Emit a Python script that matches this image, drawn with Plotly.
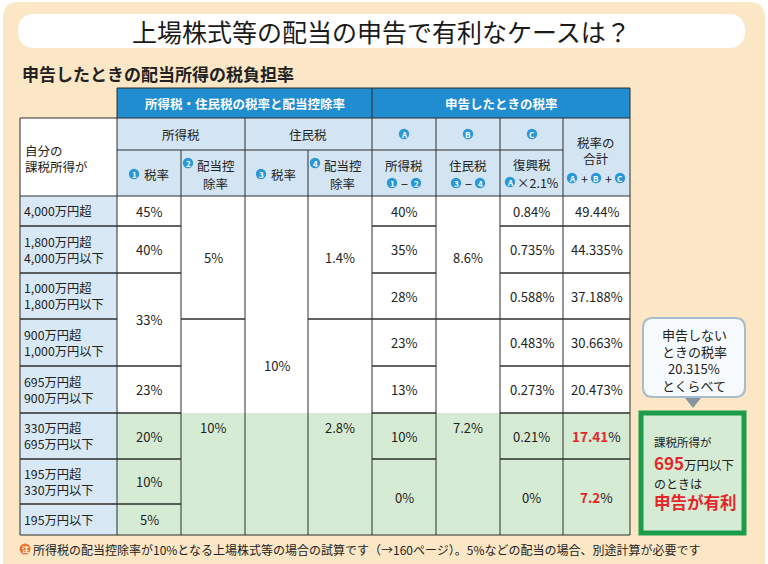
import plotly.graph_objects as go

# ---------------- data ----------------
income_brackets = [
    "4,000万円超",
    "1,800万円超<br>4,000万円以下",
    "1,000万円超<br>1,800万円以下",
    "900万円超<br>1,000万円以下",
    "695万円超<br>900万円以下",
    "330万円超<br>695万円以下",
    "195万円超<br>330万円以下",
    "195万円以下",
]
income_tax_rate = [45, 40, 33, 33, 23, 20, 10, 5]                 # ❶
income_tax_credit = [5, 5, 5, 10, 10, 10, 10, 10]                 # ❷
resident_tax_rate = [10, 10, 10, 10, 10, 10, 10, 10]              # ❸
resident_tax_credit = [1.4, 1.4, 1.4, 2.8, 2.8, 2.8, 2.8, 2.8]    # ❹
filed_income_tax = [40, 35, 28, 23, 13, 10, 0, 0]                 # Ⓐ
filed_resident_tax = [8.6, 8.6, 8.6, 7.2, 7.2, 7.2, 7.2, 7.2]     # Ⓑ
reconstruction_tax = [0.84, 0.735, 0.588, 0.483, 0.273, 0.21, 0, 0]  # Ⓒ
total_rate = [49.44, 44.335, 37.188, 30.663, 20.473, 17.41, 7.2, 7.2]
no_filing_rate = 20.315

# ---------------- style ----------------
FONT = "Noto Sans CJK JP"
INK = "#222222"
LINE = "#2e2e2e"
BAND = "#1f8dd0"
BADGE = "#2a97d8"
HEAD = "#d3e5f3"
LABEL_BG = "#d8e8f5"
GREEN = "#d5ebd3"
RED = "#e3262b"
BEIGE = "#fbe7c6"

col_x = [20, 117, 181, 245, 308, 372, 436, 500, 563, 630]
row_y = [196, 226, 273, 319, 366, 413, 459, 504, 535]

shapes, annos = [], []


def rr_path(x0, y0, x1, y1, r):
    return (f"M{x0+r},{y0} L{x1-r},{y0} Q{x1},{y0} {x1},{y0+r} L{x1},{y1-r} "
            f"Q{x1},{y1} {x1-r},{y1} L{x0+r},{y1} Q{x0},{y1} {x0},{y1-r} "
            f"L{x0},{y0+r} Q{x0},{y0} {x0+r},{y0} Z")


def path(p, fill, line=None, lw=0):
    shapes.append(dict(type="path", xref="x", yref="y", path=p, fillcolor=fill,
                       line=dict(width=lw, color=line or "rgba(0,0,0,0)")))


def rect(x0, y0, x1, y1, fill, line=None, lw=0):
    shapes.append(dict(type="rect", xref="x", yref="y", x0=x0, y0=y0, x1=x1, y1=y1,
                       fillcolor=fill, line=dict(width=lw, color=line or "rgba(0,0,0,0)")))


def hline(x0, x1, y):
    shapes.append(dict(type="line", xref="x", yref="y", x0=x0, x1=x1, y0=y, y1=y,
                       line=dict(color=LINE, width=1)))


def vline(x, y0, y1):
    shapes.append(dict(type="line", xref="x", yref="y", x0=x, x1=x, y0=y0, y1=y1,
                       line=dict(color=LINE, width=1)))


def text(x, y, s, size=12.5, color=INK, xanchor="center", yanchor="middle", align="center"):
    annos.append(dict(x=x, y=y, xref="x", yref="y", text=s, showarrow=False,
                      xanchor=xanchor, yanchor=yanchor, align=align,
                      font=dict(family=FONT, size=size, color=color)))


def badge(x, y, ch, color=BADGE, r=5.2, size=8):
    shapes.append(dict(type="circle", xref="x", yref="y", x0=x - r, x1=x + r,
                       y0=y - r, y1=y + r, fillcolor=color, line=dict(width=0)))
    text(x, y + 0.3, f"<b>{ch}</b>", size=size, color="white")


def fmt(v):
    return f"{v:g}%"


def groups(vals):
    out, start = [], 0
    for i in range(1, len(vals) + 1):
        if i == len(vals) or vals[i] != vals[start]:
            out.append((start, i - 1, vals[start]))
            start = i
    return out


# background panel and title
path(rr_path(3, 2, 765, 620, 16), BEIGE)
path(rr_path(18, 14, 745, 48, 17), "white")
text(381, 31, "上場株式等の配当の申告で有利なケースは？", size=25, color="#1a1a1a")
text(20, 73, "<b>申告したときの配当所得の税負担率</b>", size=17, xanchor="left")

# ---------------- header ----------------
rect(117, 88, 630, 118, BAND)
rect(20, 118, 117, 196, "white")
rect(117, 118, 630, 196, HEAD)
text(245, 103, "<b>所得税・住民税の税率と配当控除率</b>", size=12.5, color="white")
text(501, 103, "<b>申告したときの税率</b>", size=12.5, color="white")

text(23, 158, "自分の<br>課税所得が", size=12.5, xanchor="left", align="left")
text(181, 134, "所得税", size=12.5)
text(308, 134, "住民税", size=12.5)

# row 3 of header, left group
for cx, num in ((150, "1"), (277, "3")):
    badge(cx - 16, 174, num)
    text(cx + 6, 174, "税率", size=12.5)
for cx, num in ((213, "2"), (340, "4")):
    badge(cx - 25, 163, num)
    text(cx + 3, 165, "配当控", size=12.5)
    text(cx + 2, 183, "除率", size=12.5)

# right group header
for cx, ch in ((404, "A"), (468, "B"), (532, "C")):
    badge(cx, 134, ch)
text(404, 165, "所得税", size=12.5)
badge(392, 183, "1"); text(404, 183, "−", size=12.5); badge(416, 183, "2")
text(468, 165, "住民税", size=12.5)
badge(456, 183, "3"); text(468, 183, "−", size=12.5); badge(480, 183, "4")
text(532, 164, "復興税", size=12.5)
badge(510, 182, "A"); text(538, 182, "×2.1%", size=12.5)
text(596, 150, "税率の<br>合計", size=12.5)
badge(572, 178, "A"); text(584, 178, "+", size=12.5)
badge(596, 178, "B"); text(608, 178, "+", size=12.5)
badge(620, 178, "C")

# ---------------- body fills ----------------
for i in range(len(income_brackets)):
    y0, y1 = row_y[i], row_y[i + 1]
    rect(col_x[0], y0, col_x[1], y1, LABEL_BG)
    rect(col_x[1], y0, col_x[-1], y1, GREEN if total_rate[i] < no_filing_rate else "white")

# header lines
hline(117, 630, 88)
hline(20, 630, 118)
hline(117, 563, 150)
vline(20, 118, 196)
vline(117, 88, 196)
vline(630, 88, 196)
vline(372, 88, 196)
for x in (245, 436, 500, 563):
    vline(x, 118, 196)
for x in (181, 308):
    vline(x, 150, 196)

# ---------------- body cells ----------------
columns = [income_tax_rate, income_tax_credit, resident_tax_rate, resident_tax_credit,
           filed_income_tax, filed_resident_tax, reconstruction_tax, total_rate]

for i, lab in enumerate(income_brackets):
    y0, y1 = row_y[i], row_y[i + 1]
    hline(col_x[0], col_x[1], y0)
    hline(col_x[0], col_x[1], y1)
    text(22, (y0 + y1) / 2, lab, size=12.3, xanchor="left", align="left")

for ci, vals in enumerate(columns):
    c = ci + 1
    xa, xb = col_x[c], col_x[c + 1]
    for s, e, v in groups(vals):
        y0, y1 = row_y[s], row_y[e + 1]
        hline(xa, xb, y0)
        hline(xa, xb, y1)
        if vals is total_rate and v < no_filing_rate:
            label = f"<b><span style='color:{RED}'>{v:g}</span></b>%"
            text((xa + xb) / 2, (y0 + y1) / 2, label, size=13.5)
        else:
            text((xa + xb) / 2, (y0 + y1) / 2, fmt(v), size=13)

for x in col_x:
    vline(x, row_y[0], row_y[-1])

# ---------------- callout ----------------
path(rr_path(643, 318, 745, 397, 10), "#f6fafc", line="#a8bccb", lw=2)
path("M685,398 L701,398 L693,408 Z", "#8795a0")
text(694, 334, "申告しない", size=13)
text(694, 351, "ときの税率", size=13)
text(694, 368, f"{no_filing_rate}%", size=13)
text(694, 385, "とくらべて", size=13)

rect(641, 413, 744, 533, GREEN, line="#1b9d4b", lw=5)
text(652, 442, "課税所得が", size=11.5, xanchor="left")
text(652, 462, f"<b><span style='color:{RED};font-size:17px'>695</span></b>万円以下",
     size=12.5, xanchor="left")
text(652, 483, "のときは", size=12, xanchor="left")
text(652, 502, "<b>申告が有利</b>", size=16.5, color=RED, xanchor="left")

# ---------------- footnote ----------------
badge(25, 549, "注", color="#e8762d", r=5.5, size=7)
text(31, 549, "所得税の配当控除率が10%となる上場株式等の場合の試算です（→160ページ）。"
     "5%などの配当の場合、別途計算が必要です", size=12, xanchor="left")

fig = go.Figure()
fig.update_layout(
    width=768, height=564, autosize=False,
    margin=dict(l=0, r=0, t=0, b=0),
    paper_bgcolor="white", plot_bgcolor="white",
    xaxis=dict(range=[0, 768], visible=False, fixedrange=True),
    yaxis=dict(range=[564, 0], visible=False, fixedrange=True),
    shapes=shapes, annotations=annos, showlegend=False,
)
fig.write_html("out.html", config={"displayModeBar": False},
               post_script="document.body.style.margin='0';document.body.style.overflow='hidden';")
